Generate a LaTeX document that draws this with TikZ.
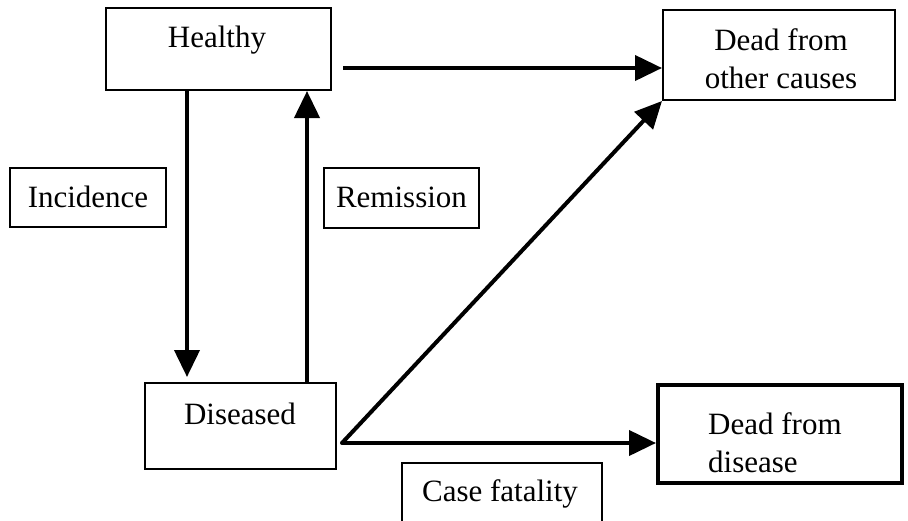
\documentclass[tikz,border=0pt]{standalone}
\usepackage{fontspec}
\setmainfont{Liberation Serif}
\usetikzlibrary{arrows.meta}
\begin{document}
\begin{tikzpicture}[x=1pt,y=-1pt,
  box/.style={draw, line width=2pt, rectangle, inner sep=0pt},
  thickbox/.style={draw, line width=4pt, rectangle, inner sep=0pt},
  txt/.style={font=\fontsize{31}{38}\selectfont, inner sep=0pt},
  arr/.style={line width=4pt, -{Triangle[length=27pt,width=25pt]}}]
\clip (0,0) rectangle (908,520);
\fill[white] (0,0) rectangle (908,520);
% boxes
\node[box, minimum width=225pt, minimum height=82pt] (healthy) at (218.5,49) {};
\node[txt] (thealthy) at (217,40) {Healthy};
\node[box, minimum width=232pt, minimum height=90pt] (deadother) at (779,55) {};
\node[txt, align=center] (tdeadother) at (781,59) {Dead from\\other causes};
\node[box, minimum width=156pt, minimum height=59pt] (incid) at (88,197.5) {};
\node[txt] (tincid) at (88,197) {Incidence};
\node[box, minimum width=155pt, minimum height=60pt] (remis) at (401.5,198) {};
\node[txt] (tremis) at (401.5,197) {Remission};
\node[box, minimum width=191pt, minimum height=86pt] (diseased) at (240.5,426) {};
\node[txt] (tdiseased) at (240,414) {Diseased};
\node[thickbox, minimum width=244pt, minimum height=98pt] (deaddis) at (780,434) {};
\node[txt, align=left, anchor=west] (tdeaddis) at (708,443) {Dead from\\disease};
\node[box, minimum width=200pt, minimum height=77pt] (casefat) at (502,501.5) {};
\node[txt] (tcasefat) at (500,494) {Case fatality};
% helper coordinates
\coordinate (hstart) at (343,68);
\coordinate (xdown) at (187,0);
\coordinate (xup) at (307,0);
\coordinate (dstart) at (342,443);
% connectors
\draw[arr] (hstart) -- (deadother.west |- hstart);
\draw[arr, shorten >=5pt] (healthy.south -| xdown) -- (diseased.north -| xdown);
\draw[arr] (diseased.north -| xup) -- (healthy.south -| xup);
\draw[arr] (dstart) -- (deadother.south west);
\draw[arr, line cap=round] (dstart) -- (deaddis.west |- dstart);
\end{tikzpicture}
\end{document}
